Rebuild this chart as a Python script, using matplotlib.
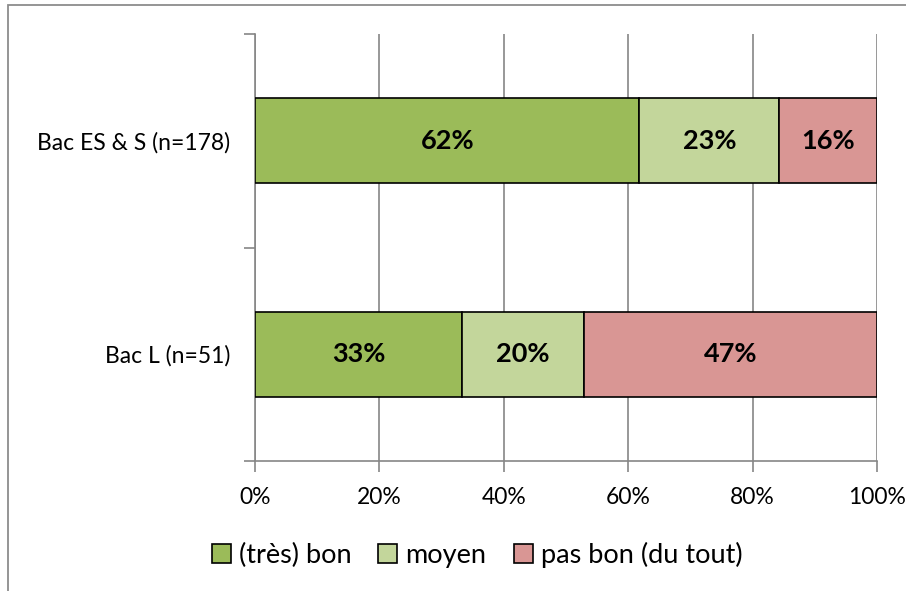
import matplotlib.pyplot as plt
from matplotlib.patches import Rectangle

plt.rcParams['font.family'] = ['Lato', 'DejaVu Sans']

# data (shares in %)
groups = ['Bac L (n=51)', 'Bac ES & S (n=178)']
series = ['(très) bon', 'moyen', 'pas bon (du tout)']
values = {
    '(très) bon': [33.3, 61.8],
    'moyen': [19.6, 22.5],
    'pas bon (du tout)': [47.1, 15.7],
}
labels = {
    '(très) bon': ['33%', '62%'],
    'moyen': ['20%', '23%'],
    'pas bon (du tout)': ['47%', '16%'],
}
colors = ['#9BBB59', '#C3D69B', '#D99694']

fig = plt.figure(figsize=(9.06, 5.91), dpi=100)
# chart frame (only left / top visible)
fig.patches.append(Rectangle((8 / 906, 0 - 0.05), 1.2, 1 - 5 / 591 + 0.05,
                             transform=fig.transFigure, fill=False,
                             edgecolor='#8C8C8C', linewidth=1.3))

ax = fig.add_axes([255 / 906, 1 - 461 / 591, (877 - 255) / 906, (461 - 34) / 591])

ypos = list(range(len(groups)))
left = [0] * len(groups)
for s, c in zip(series, colors):
    bars = ax.barh(ypos, values[s], left=left, height=0.4, color=c,
                   edgecolor='black', linewidth=1.2, label=s, zorder=3)
    for b, txt in zip(bars, labels[s]):
        ax.text(b.get_x() + b.get_width() / 2, b.get_y() + b.get_height() / 2,
                txt, ha='center', va='center', fontsize=19.5, fontweight='bold',
                zorder=4)
    left = [l + v for l, v in zip(left, values[s])]

ax.set_xlim(0, 100)
ax.set_ylim(-0.5, 1.5)
ax.set_xticks([0, 20, 40, 60, 80, 100])
ax.set_xticklabels(['0%', '20%', '40%', '60%', '80%', '100%'], fontsize=16.5)
ax.set_yticks([-0.5, 0.5, 1.5])
ax.set_yticklabels([])
ax.set_yticks(ypos, minor=True)
ax.set_yticklabels(groups, minor=True, fontsize=16.5)
ax.tick_params(axis='y', which='minor', length=0, pad=18)
ax.tick_params(axis='y', which='major', length=8, color='#868686', width=1.2)
ax.tick_params(axis='x', length=8, color='#868686', width=1.2, pad=11)

ax.grid(axis='x', color='#868686', linewidth=1.2, zorder=0)
for sp in ['top', 'right']:
    ax.spines[sp].set_visible(False)
for sp in ['left', 'bottom']:
    ax.spines[sp].set_color('#868686')
    ax.spines[sp].set_linewidth(1.2)

fig.legend(loc='center', bbox_to_anchor=(477 / 906, 1 - 555 / 591), ncol=3,
           frameon=False, fontsize=19.5, handlelength=0.7, handleheight=0.7,
           handletextpad=0.3, columnspacing=1.0)

fig.savefig('out.png', dpi=100)
